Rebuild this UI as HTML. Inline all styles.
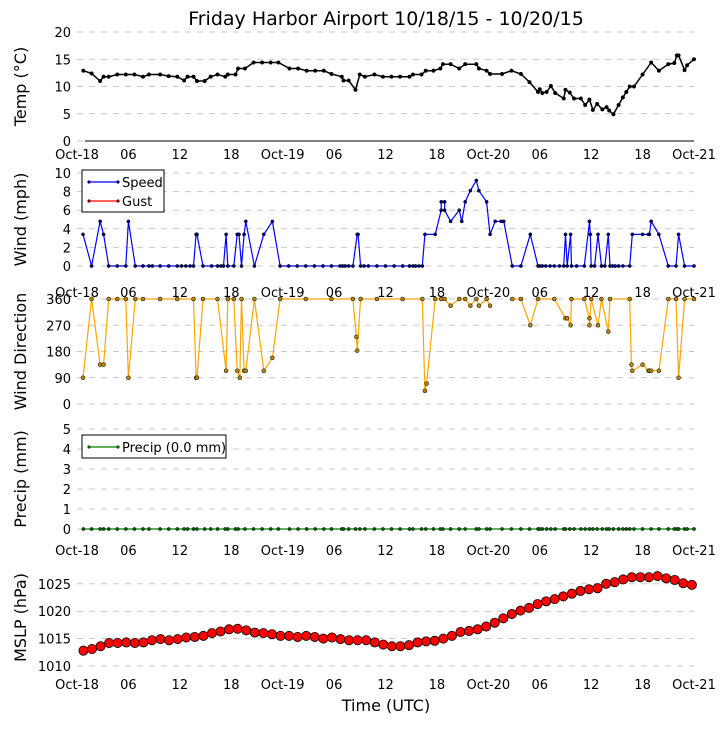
<!DOCTYPE html>
<html><head><meta charset="utf-8"><style>
body{margin:0;background:#fff;}
svg{font-family:"DejaVu Sans","Liberation Sans",sans-serif;}
</style></head><body>
<svg id="chart" width="724" height="725" xmlns="http://www.w3.org/2000/svg">
<text x="386" y="25" text-anchor="middle" font-size="19">Friday Harbor Airport 10/18/15 - 10/20/15</text>
</svg>
<script>
const tempHours=[0.74,1.7,2.7,3.1,3.7,4.7,5.7,6.7,7.7,8.4,9.7,10.7,11.7,12.5,12.9,13.6,14.0,14.9,15.6,16.4,17.3,17.6,18.5,18.8,19.6,20.6,21.6,22.6,23.5,24.8,25.8,26.8,27.8,28.8,29.7,30.9,31.1,31.7,32.5,33.0,33.6,34.7,35.7,36.7,37.7,38.8,39.2,40.2,40.7,41.6,42.4,42.7,43.6,44.6,45.3,46.6,46.9,47.8,48.2,49.6,50.7,51.8,52.8,53.8,54.0,54.3,54.8,55.3,55.8,56.8,57.0,57.5,58.0,58.8,59.3,59.8,60.2,60.7,61.3,61.8,62.1,62.6,63.2,63.7,64.1,64.5,65.0,66.0,67.0,67.9,69.0,69.7,70.0,70.2,70.9,71.2,72.0];
const tempValues=[12.9,12.4,11.0,11.8,11.8,12.2,12.2,12.2,11.8,12.2,12.2,11.9,11.8,11.1,11.8,11.8,11.0,11.0,11.8,12.2,11.8,12.2,12.2,13.3,13.3,14.4,14.4,14.4,14.4,13.3,13.3,12.9,12.9,12.9,12.3,11.8,11.1,11.1,9.4,12.2,11.8,12.2,11.8,11.8,11.8,11.8,12.2,12.2,12.9,12.9,13.3,14.1,14.1,13.3,14.1,14.1,13.3,12.9,12.3,12.3,12.9,12.3,10.8,9.0,9.5,8.8,9.0,10.1,8.8,7.8,9.4,8.9,7.8,7.8,6.6,7.6,5.7,6.8,5.8,6.2,5.6,4.9,6.6,8.0,9.0,10.0,10.0,12.2,14.4,12.9,14.1,14.3,15.7,15.7,13.0,13.9,15.0];
const windHours=[0.7,1.7,2.7,3.1,3.7,4.7,5.7,6.0,6.8,7.7,8.4,8.8,9.7,10.7,11.7,12.2,12.7,13.2,13.6,13.9,14.0,14.7,15.7,16.4,16.8,17.1,17.4,17.6,18.3,18.7,18.9,19.2,19.5,19.7,20.7,21.8,22.8,23.7,24.7,25.7,26.7,27.7,28.7,29.7,30.7,31.0,31.3,31.7,32.2,32.7,32.8,33.1,33.5,34.0,35.0,36.0,37.0,38.0,38.8,39.2,39.5,39.9,40.3,40.6,41.8,42.5,42.5,42.9,42.9,43.6,44.6,44.9,45.3,45.9,46.6,46.9,47.8,48.2,48.8,49.5,49.8,50.8,51.8,52.9,53.8,54.0,54.3,54.7,55.2,55.7,56.3,56.8,57.0,57.2,57.6,57.7,58.3,59.2,59.8,59.9,60.0,60.4,60.8,61.2,61.6,62.0,62.2,62.5,62.8,63.2,63.7,64.5,64.8,66.0,66.7,66.8,67.0,67.9,69.0,69.9,70.2,70.9,72.0];
const windValues=[3.4,0,4.8,3.4,0,0,0,4.8,0,0,0,0,0,0,0,0,0,0,0,3.4,3.4,0,0,0,0,0,3.4,0,0,3.4,3.4,0,3.4,4.8,0,3.4,4.8,0,0,0,0,0,0,0,0,0,0,0,0,3.4,3.4,0,0,0,0,0,0,0,0,0,0,0,0,3.4,3.4,6.0,6.9,6.9,6.0,4.8,6.0,4.8,6.9,8.1,9.2,8.1,6.9,3.4,4.8,4.8,4.8,0,0,3.4,0,0,0,0,0,0,0,0,3.4,0,3.4,0,0,0,4.8,3.4,0,0,3.4,0,0,3.4,0,0,0,0,0,0,3.4,3.4,3.4,3.4,4.8,3.4,0,0,3.4,0,0];
const dirHours=[0.7,1.7,2.7,3.1,3.7,4.7,5.7,6.0,6.8,7.7,9.7,11.7,13.6,13.9,14.0,14.7,16.4,17.4,17.6,18.3,18.7,19.0,19.2,19.5,19.7,20.7,21.8,22.8,23.7,26.7,29.7,32.2,32.6,32.7,33.1,35.0,38.0,40.3,40.6,40.8,41.8,42.5,42.9,43.6,44.6,45.3,45.9,46.6,46.9,47.8,48.2,48.5,50.8,51.8,52.9,53.8,55.7,57.0,57.2,57.6,57.7,59.2,59.8,59.8,60.0,60.8,61.2,62.0,62.2,64.5,64.7,64.8,66.0,66.7,66.8,67.0,67.9,69.0,69.9,70.2,70.9,72.0];
const dirValues=[90,360,135,135,360,360,360,90,360,360,360,360,360,90,90,360,360,114,360,360,114,90,360,114,114,360,114,158,360,360,360,360,230,183,360,360,360,360,45,70,360,360,360,337,360,360,337,360,337,360,337,null,360,360,270,360,360,294,294,270,360,360,294,270,360,270,360,248,360,360,135,114,135,114,114,114,114,360,360,90,360,360];
const mslpHours=[0.75,1.75,2.75,3.75,4.75,5.75,6.75,7.75,8.75,9.75,10.75,11.75,12.75,13.75,14.75,15.75,16.75,17.75,18.75,19.75,20.75,21.75,22.75,23.75,24.75,25.75,26.75,27.75,28.75,29.75,30.75,31.75,32.75,33.75,34.75,35.75,36.75,37.75,38.75,39.75,40.75,41.75,42.75,43.75,44.75,45.75,46.75,47.75,48.75,49.75,50.75,51.75,52.75,53.75,54.75,55.75,56.75,57.75,58.75,59.75,60.75,61.75,62.75,63.75,64.75,65.75,66.75,67.75,68.75,69.75,70.75,71.75];
const mslpValues=[1012.8,1013.1,1013.6,1014.2,1014.2,1014.3,1014.2,1014.3,1014.7,1014.9,1014.7,1014.9,1015.2,1015.3,1015.5,1016.0,1016.3,1016.7,1016.8,1016.5,1016.1,1016.0,1015.8,1015.5,1015.5,1015.3,1015.5,1015.3,1015.0,1015.2,1014.9,1014.7,1014.7,1014.7,1014.3,1013.9,1013.6,1013.6,1013.8,1014.3,1014.5,1014.6,1015.0,1015.5,1016.2,1016.4,1016.7,1017.2,1017.9,1018.7,1019.5,1020.1,1020.6,1021.3,1021.8,1022.2,1022.7,1023.2,1023.7,1024.0,1024.2,1025.0,1025.3,1025.8,1026.2,1026.2,1026.2,1026.4,1026.0,1025.7,1025.1,1024.8];
const precipValues=tempHours.map(()=>0.0);
const xTickHours=[0,6,12,18,24,30,36,42,48,54,60,66,72];
const xTickLabels=["Oct-18","06","12","18","Oct-19","06","12","18","Oct-20","06","12","18","Oct-21"];

const svg=document.getElementById('chart');
const NS='http://www.w3.org/2000/svg';
const X0=77,X1=694;
const xs=h=>X0+(X1-X0)*h/72;
function mk(tag,attrs){const e=document.createElementNS(NS,tag);for(const k in attrs)e.setAttribute(k,attrs[k]);svg.appendChild(e);return e;}

function panel(name,top,bot,min,max,ticks,label,xlabY){
  const ys=v=>bot-(bot-top)*(v-min)/(max-min);
  ticks.forEach(t=>{
    const g=mk('line',{x1:X0,x2:X1,y1:ys(t),y2:ys(t),stroke:'#c8c8c8','stroke-dasharray':'6,6'});
    
    
    const tl=mk('text',{x:X0-6,y:ys(t)+5,'text-anchor':'end','font-size':13});
    tl.textContent=t;
    
    
  });
  const yl=mk('text',{x:0,y:0,transform:`translate(26,${(top+bot)/2}) rotate(-90)`,'text-anchor':'middle','font-size':16});
  yl.textContent=label;
  
  
  if(xlabY){
    xTickHours.forEach((h,i)=>{
      const t=mk('text',{x:xs(h),y:xlabY,'text-anchor':'middle','font-size':13});
      t.textContent=xTickLabels[i];
      
      
    });
  }
  return ys;
}
function series(name,hours,vals,ys,color,r,fill,lw){
  let d='',pen=false;
  hours.forEach((h,i)=>{const v=vals[i];if(v===null||v===undefined){pen=false;return;}d+=(pen?'L':'M')+xs(h).toFixed(1)+','+ys(v).toFixed(1);pen=true;});
  if(lw>0){const p=mk('path',{d:d,fill:'none',stroke:color,'stroke-width':lw});
    
    }
  hours.forEach((h,i)=>{const v=vals[i];if(v===null)return;
    const c=mk('circle',{cx:xs(h),cy:ys(v),r:r,fill:fill,stroke:'#000','stroke-width':r>3?0.8:0.5});
    
    });
}

const yT=panel('temp',32,141,0,20,[0,5,10,15,20],'Temp (\u00B0C)',159);
const ax=mk('line',{x1:85,x2:694,y1:141,y2:141,stroke:'#000','stroke-width':1});


series('temp',tempHours,tempValues,yT,'#000',1.8,'#000',1.5);

const yW=panel('wind',173,266,0,10,[0,2,4,6,8,10],'Wind (mph)',297);
series('wind-speed',windHours,windValues,yW,'#0000ff',1.6,'#000080',1.2);

const yD=panel('wind-direction',299,404,0,360,[0,90,180,270,360],'Wind Direction',null);
series('wind-direction',dirHours,dirValues,yD,'#ffa500',2,'#b8860b',1.2);

const yP=panel('precip',429,529,0,5,[0,1,2,3,4,5],'Precip (mm)',555);
series('precip',tempHours,precipValues,yP,'#008000',1.6,'#006400',1.2);

const yM=panel('mslp',569,666,1010,1027.7,[1010,1015,1020,1025],'MSLP (hPa)',689);
series('mslp',mslpHours,mslpValues,yM,'#ff0000',4.6,'#ff0000',0);

const xt=mk('text',{x:386,y:711,'text-anchor':'middle','font-size':16});
xt.textContent='Time (UTC)';



function legend(name,x,y,w,h,items){
  const b=mk('rect',{x:x,y:y,width:w,height:h,fill:'#fff',stroke:'#000','stroke-width':1});
  
  
  items.forEach((it,i)=>{
    const cy=y+12+i*19;
    const l=mk('line',{x1:x+7,x2:x+36,y1:cy,y2:cy,stroke:it.c,'stroke-width':1.2});
    
    
    [x+7,x+36].forEach(cx=>{const c=mk('circle',{cx:cx,cy:cy,r:1.6,fill:it.f});
      
      });
    const t=mk('text',{x:x+40,y:cy+5,'font-size':13});
    t.textContent=it.t;
    
    
  });
}
legend('wind-legend',82,170,82,42,[{t:'Speed',c:'#0000ff',f:'#000080'},{t:'Gust',c:'#ff0000',f:'#800000'}]);
legend('precip-legend',82,435,144,23,[{t:'Precip (0.0 mm)',c:'#008000',f:'#006400'}]);
</script>
</body></html>
